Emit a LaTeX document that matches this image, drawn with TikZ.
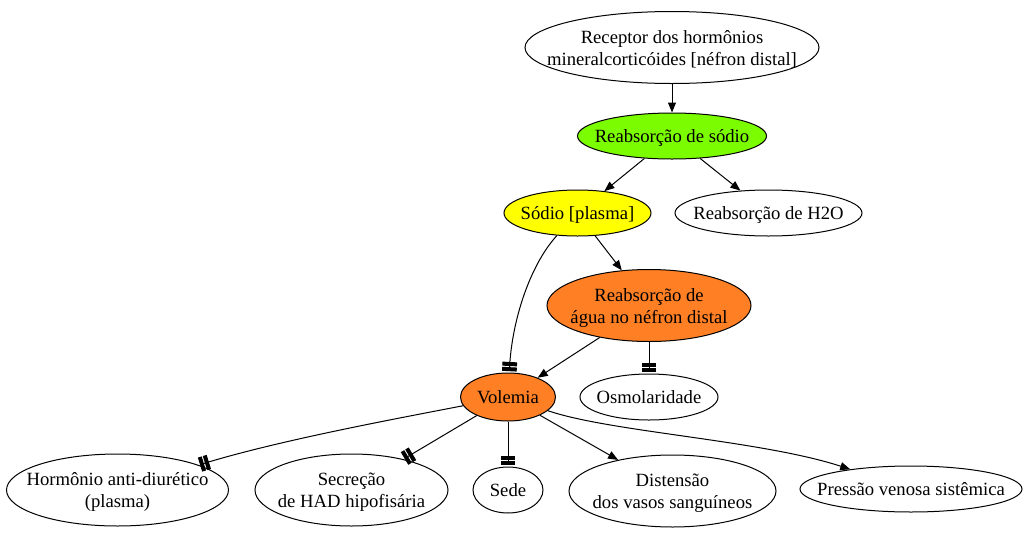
\documentclass[tikz,border=0pt]{standalone}
\usepackage{fontspec}
\setmainfont{Liberation Serif}
\usepackage{tikz}
\usetikzlibrary{shapes,arrows.meta,positioning,calc}
\definecolor{verdegrama}{RGB}{124,252,0}
\definecolor{amarelo}{RGB}{255,255,0}
\definecolor{laranja}{RGB}{255,127,36}
\newcommand{\rotulo}[1]{\makebox[0pt]{\raisebox{-5.5pt}[0pt][0pt]{\begin{tabular}{@{}c@{}}#1\end{tabular}}}}

\begin{document}
\begin{tikzpicture}[x=0.75pt,y=-0.75pt,
        elo/.style={ellipse,draw,line width=0.75pt,inner sep=0pt,minimum height=34.5pt,
          font=\fontsize{14}{16.5}\selectfont},
        alto/.style={minimum height=54pt},
        seta/.style={line width=0.75pt,-{Triangle[length=7.5pt,width=6pt]}},
        inibe/.style={line width=0.75pt,shorten >=1pt,
          -{Rectangle[length=3pt,width=11pt,sep=0.9pt]Rectangle[length=3pt,width=11pt]}}]
        \useasboundingbox (0,0) rectangle (1026,533);
        \node [elo,alto,minimum width=220.5pt] (receptor) at (672,47.5) {\rotulo{Receptor dos hormônios\\mineralcorticóides [néfron distal]}};
        \node [elo,fill=verdegrama,minimum width=141.75pt] (reabsodio) at (672,136) {\rotulo{Reabsorção de sódio}};
        \node [elo,fill=amarelo,minimum width=110.25pt] (sodio) at (577.5,213) {\rotulo{Sódio [plasma]}};
        \node [elo,minimum width=140.25pt] (reabhdois) at (768.5,213) {\rotulo{Reabsorção de H2O}};
        \node [elo,alto,fill=laranja,minimum width=153pt] (reabagua) at (649,305.5) {\rotulo{Reabsorção de\\água no néfron distal}};
        \node [elo,fill=laranja,minimum width=71.25pt,minimum height=36pt] (volemia) at (508,397) {\rotulo{Volemia}};
        \node [elo,minimum width=103.5pt] (osmol) at (649,397) {\rotulo{Osmolaridade}};
        \node [elo,alto,minimum width=166.5pt] (hormonio) at (117.5,490) {\rotulo{Hormônio anti-diurético\\(plasma)}};
        \node [elo,alto,minimum width=144.75pt] (secrecao) at (351.5,490) {\rotulo{Secreção\\de HAD hipofisária}};
        \node [elo,minimum width=52.5pt] (sede) at (508,490) {\rotulo{Sede}};
        \node [elo,alto,minimum width=155.25pt] (distensao) at (672.5,491) {\rotulo{Distensão\\dos vasos sanguíneos}};
        \node [elo,minimum width=166.5pt] (pressao) at (911,489) {\rotulo{Pressão venosa sistêmica}};
        \draw [seta] (receptor) -- (reabsodio);
        \draw [seta] (reabsodio) -- (sodio);
        \draw [seta] (reabsodio) -- (reabhdois);
        \draw [seta] (sodio) -- (reabagua);
        \draw [inibe] (sodio) .. controls (530,265) and (512,320) .. (volemia);
        \draw [seta] (reabagua) -- (volemia);
        \draw [inibe] (reabagua) -- (osmol);
        \draw [inibe] (volemia) .. controls (400,418) and (280,440) .. (hormonio);
        \draw [inibe] (volemia) -- (secrecao);
        \draw [inibe] (volemia) -- (sede);
        \draw [seta] (volemia) -- (distensao);
        \draw [seta] (volemia) .. controls (610,432) and (760,440) .. (pressao);
      \end{tikzpicture}
\end{document}
